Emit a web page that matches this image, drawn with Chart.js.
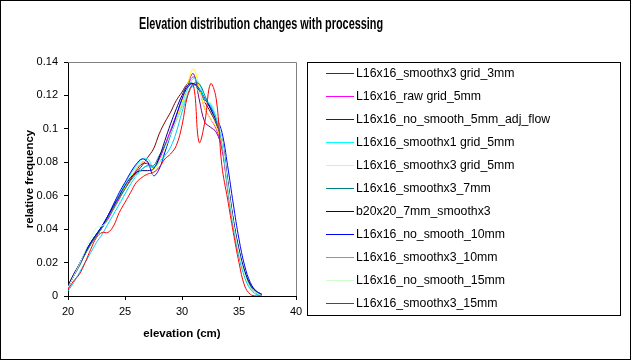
<!DOCTYPE html>
<html>
<head>
<meta charset="utf-8">
<script src="https://cdn.jsdelivr.net/npm/chart.js@4"></script>
<style>
  html, body { margin: 0; padding: 0; background: #fff; }
  #wrap { width: 631px; height: 360px; }
</style>
</head>
<body>
<div id="wrap"><canvas id="myChart" width="631" height="360"></canvas></div>
<script>
// elevation bins (cm)
let elevation = [20, 20.5, 21, 21.5, 22, 22.5, 23, 23.5, 24, 24.5, 25, 25.5, 26, 26.5, 27, 27.5, 28, 28.5,
  29, 29.5, 30, 30.5, 31, 31.5, 32, 32.5, 33, 33.5, 34, 34.5, 35, 35.5, 36, 36.5, 37];

let seriesNames = [
  "L16x16_smoothx3 grid_3mm",
  "L16x16_raw grid_5mm",
  "L16x16_no_smooth_5mm_adj_flow",
  "L16x16_smoothx1 grid_5mm",
  "L16x16_smoothx3 grid_5mm",
  "L16x16_smoothx3_7mm",
  "b20x20_7mm_smoothx3",
  "L16x16_no_smooth_10mm",
  "L16x16_smoothx3_10mm",
  "L16x16_no_smooth_15mm",
  "L16x16_smoothx3_15mm",
];

let seriesColors = ["#800080", "#ff00ff", "#800000", "#00ffff", "#ffff00", "#008080",
  "#000080", "#0000ff", "#00ccff", "#ccffcc", "#ff0000"];

let smoothx3Grid3mm = [.006, .013, .019, .026, .032, .037, .041, .046, .052, .058, .064, .070, .075, .079, .079, .077, .082, .090,
  .099, .108, .117, .127, .133, .118, .104, .101, .098, .088, .064, .042, .024, .012, .005, .002, 0];
let rawGrid5mm = [.005, .012, .018, .025, .031, .036, .041, .046, .052, .058, .064, .070, .076, .080, .080, .077, .082, .090,
  .099, .108, .117, .126, .131, .124, .112, .106, .100, .089, .066, .043, .025, .012, .005, .002, 0];
let noSmooth5mmAdjFlow = [.006, .012, .019, .025, .031, .036, .041, .047, .053, .059, .065, .070, .074, .078, .083, .088, .097, .104,
  .110, .117, .122, .127, .127, .123, .116, .110, .103, .092, .068, .045, .027, .014, .006, .002, 0];
let smoothx1Grid5mm = [.005, .012, .019, .026, .032, .037, .042, .048, .055, .061, .067, .073, .078, .082, .082, .077, .080, .087,
  .096, .106, .115, .124, .130, .127, .118, .115, .108, .094, .068, .044, .026, .013, .005, .002, 0];
let smoothx3Grid5mm = [.005, .012, .018, .025, .031, .036, .041, .047, .053, .059, .065, .071, .076, .080, .080, .076, .080, .088,
  .097, .106, .116, .127, .136, .125, .112, .106, .101, .091, .066, .043, .025, .012, .005, .002, 0];
let smoothx3_7mm = [.006, .012, .018, .025, .031, .036, .041, .047, .053, .059, .064, .069, .073, .076, .078, .078, .084, .090,
  .097, .105, .113, .121, .127, .127, .120, .112, .104, .093, .068, .045, .027, .014, .006, .002, 0];
let b20x20_7mm = [.006, .013, .019, .026, .032, .037, .042, .048, .054, .060, .066, .071, .074, .075, .075, .076, .083, .093,
  .103, .112, .120, .126, .127, .124, .118, .112, .105, .094, .070, .046, .028, .015, .007, .003, .001];
let noSmooth10mm = [.005, .012, .019, .026, .032, .037, .042, .048, .055, .062, .068, .074, .079, .082, .080, .072, .076, .086,
  .097, .108, .118, .125, .127, .124, .118, .113, .107, .098, .078, .055, .034, .018, .008, .003, .001];
let smoothx3_10mm = [.003, .008, .014, .020, .026, .032, .037, .043, .049, .055, .061, .067, .072, .076, .078, .077, .080, .084,
  .089, .098, .110, .120, .126, .124, .118, .114, .106, .092, .066, .042, .024, .011, .004, .001, 0];
let noSmooth15mm = [.005, .012, .019, .027, .035, .041, .042, .045, .051, .057, .063, .068, .072, .073, .072, .073, .080, .088,
  .097, .105, .113, .121, .125, .122, .116, .116, .108, .094, .068, .044, .026, .013, .005, .002, 0];
let smoothx3_15mm = [.004, .009, .013, .020, .028, .035, .038, .038, .042, .050, .056, .062, .068, .071, .073, .074, .077, .082,
  .085, .090, .102, .120, .126, .092, .104, .127, .118, .078, .058, .038, .020, .006, .001, 0, 0];

let allSeries = [smoothx3Grid3mm, rawGrid5mm, noSmooth5mmAdjFlow, smoothx1Grid5mm, smoothx3Grid5mm, smoothx3_7mm,
  b20x20_7mm, noSmooth10mm, smoothx3_10mm, noSmooth15mm, smoothx3_15mm];

let xTickValues = [20, 25, 30, 35, 40];
let yTickValues = [0, 0.02, 0.04, 0.06, 0.08, 0.1, 0.12, 0.14];

let chartTitle = "Elevation distribution changes with processing";

function buildDatasets() {
  let datasets = [];
  for (let i = 0; i < allSeries.length; i++) {
    datasets.push({
      label: seriesNames[i],
      data: allSeries[i].map((v, j) => ({ x: elevation[j], y: v })),
      borderColor: seriesColors[i],
      borderWidth: 1,
      pointRadius: 0,
      tension: 0.4,
      fill: false,
      order: allSeries.length - i, // last series on top, like excel
    });
  }
  return datasets;
}

// title, frame, legend box and gray plot border
const excelBits = {
  id: "excelBits",
  beforeDatasetsDraw(chart) {
    let ctx = chart.ctx;
    let a = chart.chartArea;
    ctx.save();
    ctx.strokeStyle = "#808080";
    ctx.lineWidth = 1;
    ctx.beginPath();
    ctx.moveTo(a.left, a.top + 0.5);
    ctx.lineTo(a.right + 0.5, a.top + 0.5);
    ctx.lineTo(a.right + 0.5, a.bottom);
    ctx.stroke();
    ctx.restore();
  },
  afterDraw(chart) {
    let ctx = chart.ctx;
    ctx.save();
    // outer frame
    ctx.strokeStyle = "#000";
    ctx.lineWidth = 1;
    ctx.strokeRect(0.5, 0.5, 630, 359);

    // title (narrow bold, squeezed horizontally)
    ctx.save();
    ctx.fillStyle = "#000";
    ctx.font = "bold 16px Arial, 'Liberation Sans', sans-serif";
    ctx.textAlign = "center";
    ctx.textBaseline = "middle";
    ctx.translate(261, 25);
    ctx.scale(0.68, 1);
    ctx.fillText(chartTitle, 0, 0);
    ctx.restore();

    // legend
    ctx.strokeRect(307.5, 62.5, 313, 253);
    ctx.font = "12.3px Arial, 'Liberation Sans', sans-serif";
    ctx.textAlign = "left";
    ctx.textBaseline = "middle";
    chart.data.datasets.forEach((ds, i) => {
      let y = 73 + i * 23;
      ctx.strokeStyle = ds.borderColor;
      ctx.beginPath();
      ctx.moveTo(326, y + 0.5);
      ctx.lineTo(354, y + 0.5);
      ctx.stroke();
      ctx.fillStyle = "#000";
      ctx.fillText(ds.label, 356, y + 1);
    });
    ctx.restore();
  },
};

const ctx = document.getElementById("myChart");

new Chart(ctx, {
  type: "line",
  data: { datasets: buildDatasets() },
  plugins: [excelBits],
  options: {
    responsive: false,
    animation: false,
    layout: {
      padding: { left: 0, right: 335, top: 62, bottom: 0 },
    },
    scales: {
      x: {
        type: "linear",
        min: 20,
        max: 40,
        afterBuildTicks: (scale) => {
          scale.ticks = xTickValues.map((v) => ({ value: v }));
        },
        afterFit: (scale) => {
          scale.height = 64;
        },
        grid: {
          drawOnChartArea: false,
          tickLength: 4,
          color: "#000",
        },
        border: { color: "#000", width: 1 },
        ticks: {
          color: "#000",
          padding: 5,
          maxRotation: 0,
          font: { family: "Arial, 'Liberation Sans', sans-serif", size: 11 },
        },
        title: {
          display: true,
          text: "elevation (cm)",
          color: "#000",
          padding: { top: 0, bottom: 19 },
          font: { family: "Arial, 'Liberation Sans', sans-serif", size: 11.5, weight: "bold" },
        },
      },
      y: {
        min: 0,
        max: 0.14,
        afterBuildTicks: (scale) => {
          scale.ticks = yTickValues.map((v) => ({ value: v }));
        },
        afterFit: (scale) => {
          scale.width = 68;
        },
        grid: {
          drawOnChartArea: false,
          tickLength: 4,
          color: "#000",
        },
        border: { color: "#000", width: 1 },
        ticks: {
          color: "#000",
          padding: 6,
          callback: (value) => String(Number(value.toFixed(2))),
          font: { family: "Arial, 'Liberation Sans', sans-serif", size: 11 },
        },
        title: {
          display: true,
          text: "relative frequency",
          color: "#000",
          padding: { top: 23, bottom: 0 },
          font: { family: "Arial, 'Liberation Sans', sans-serif", size: 11.5, weight: "bold" },
        },
      },
    },
    plugins: {
      legend: { display: false },
      tooltip: { enabled: false },
    },
  },
});
</script>
</body>
</html>
